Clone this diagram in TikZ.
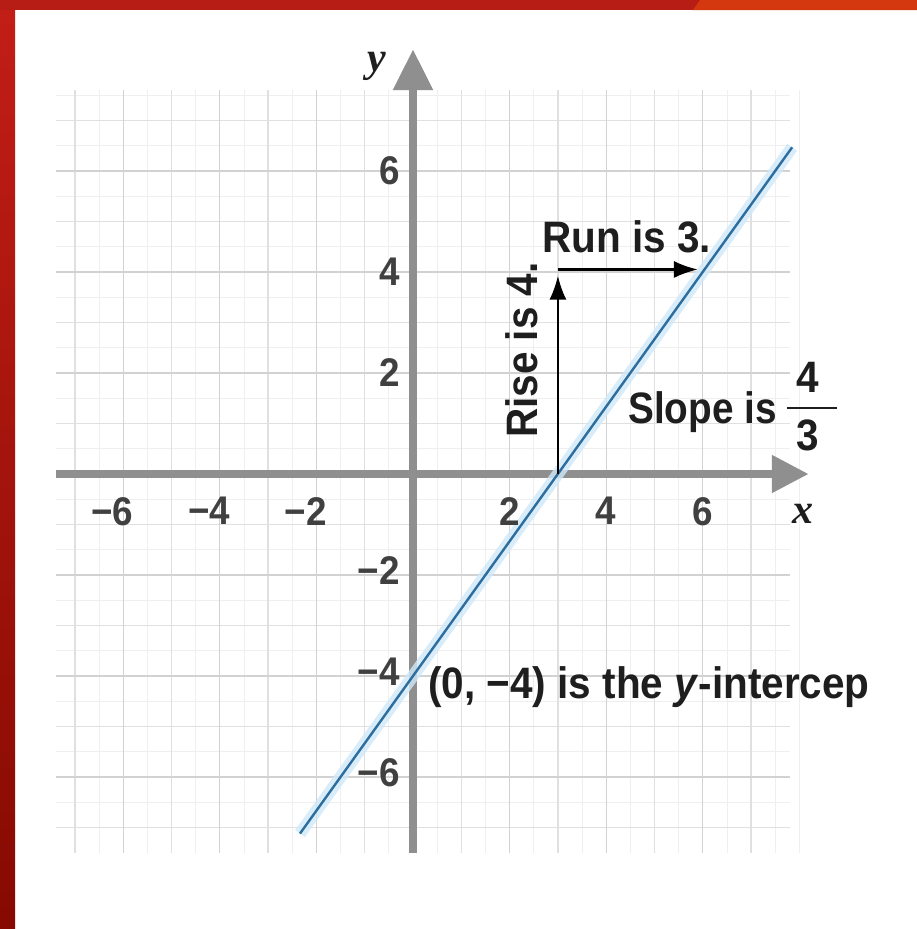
\documentclass[tikz,border=0pt]{standalone}
\usepackage{fontspec}
\setmainfont{Liberation Sans}
\newfontfamily\cond{Liberation Sans}[FakeStretch=0.92]
\newfontfamily\condn{Liberation Sans}[FakeStretch=0.88]
\newfontfamily\serifit{Liberation Serif}
\usetikzlibrary{arrows.meta}

\definecolor{axisgray}{HTML}{8F8F8F}
\definecolor{gridmaj}{HTML}{D2D2D2}
\definecolor{gridodd}{HTML}{E0E0E0}
\definecolor{gridmin}{HTML}{EFEFEF}
\definecolor{lineblue}{HTML}{2E6E9E}
\definecolor{haloblue}{HTML}{CFE9F8}
\definecolor{txt}{HTML}{1E1E1E}
\definecolor{redA}{HTML}{C21E16}
\definecolor{redB}{HTML}{860A02}
\definecolor{orangeR}{HTML}{D4380F}

\tikzset{
  lbl/.style={font=\cond\bfseries\fontsize{44}{44}\selectfont, text=txt, inner sep=0pt},
  lbln/.style={font=\condn\bfseries\fontsize{44}{44}\selectfont, text=txt, inner sep=0pt},
  ticklbl/.style={font=\cond\bfseries\fontsize{40}{40}\selectfont, text=txt!85!white, inner sep=0pt},
  axlbl/.style={font=\serifit\bfseries\itshape\fontsize{42}{42}\selectfont, text=txt, inner sep=0pt},
  arr/.style={line width=2.6pt, draw=black, -{Latex[length=24pt,width=17pt]}},
  majline/.style={draw=gridmaj, line width=1.3pt},
  oddline/.style={draw=gridodd, line width=1.3pt},
  minline/.style={draw=gridmin, line width=0.9pt},
}

\begin{document}
\begin{tikzpicture}[x=1pt,y=1pt]
\useasboundingbox (0,0) rectangle (917,-929);
\fill[white] (0,0) rectangle (917,-929);
% red frame
\shade[top color=redA,bottom color=redB] (0,0) rectangle (15,-929);
\fill[redA!95!black] (0,0) rectangle (917,-10);
\fill[orangeR] (700,0) -- (917,0) -- (917,-10) -- (693,-10) -- cycle;

\begin{scope}[shift={(413pt,-474pt)}, x=48.3pt, y=50.5pt]
  % grid
  \foreach \i in {-7,-6.5,...,7.5} \draw[minline] (\i+0.5,-7.5) -- (\i+0.5,7.6);
  \foreach \i in {-7.5,-7,...,7} \draw[minline] (-7.4,\i+0.5) -- (7.8,\i+0.5);
  \foreach \i in {-7,-5,...,7} \draw[oddline] (\i,-7.5) -- (\i,7.6);
  \foreach \i in {-7,-5,...,7} \draw[oddline] (-7.4,\i) -- (7.8,\i);
  \foreach \i in {-6,-4,...,6} \draw[majline] (\i,-7.5) -- (\i,7.6);
  \foreach \i in {-6,-4,...,6} \draw[majline] (-7.4,\i) -- (7.8,\i);
  % axes
  \draw[axisgray, line width=8pt] (-7.4,0) -- (7.5,0);
  \fill[axisgray] (8.18,0) -- (7.43,0.38) -- (7.43,-0.38) -- cycle;
  \draw[axisgray, line width=8pt] (0,-7.5) -- (0,7.7);
  \fill[axisgray] (0,8.4) -- (-0.42,7.6) -- (0.42,7.6) -- cycle;
  % line y = 4/3 x - 4
  \coordinate (L1) at (-2.34,-7.12);
  \coordinate (L2) at (7.85,6.47);
  \draw[haloblue, line width=12pt, opacity=0.8] (L1) -- (L2);
  \draw[lineblue, line width=2.4pt] (L1) -- (L2);
  % rise and run
  \coordinate (P0) at (3,0);
  \coordinate (P1) at (3,3.93);
  \coordinate (P2) at (3,4.05);
  \coordinate (P3) at (5.9,4.05);
  \draw[arr] (P0) -- (P1);
  \draw[arr] (P2) -- (P3);
  % x tick labels
  \foreach \v in {-6,-4,-2} {
    \pgfmathtruncatemacro\a{abs(\v)}
    \node[ticklbl, anchor=north] (xt\a n) at (\v,-0.46) {\llap{−}\a};
  }
  \foreach \v in {2,4,6}
    \node[ticklbl, anchor=north] (xt\v) at (\v,-0.46) {\v};
  % y tick labels
  \foreach \v in {2,4,6}
    \node[ticklbl, anchor=east] (yt\v) at (-0.27,\v) {\v};
  \foreach \v in {-6,-4,-2} {
    \pgfmathtruncatemacro\a{abs(\v)}
    \node[ticklbl, anchor=east] (yt\a n) at (-0.27,\v+0.08) {−\a};
  }
\end{scope}

% axis names
\node[axlbl] (ylab) at (377,-66) {y};
\node[axlbl] (xlab) at (803,-514) {x};

% annotations
\node[lbl, anchor=base west] (run) at (542,-252) {Run is 3.};
\node[lbl, rotate=90, anchor=base] (rise) at (537,-350) {Rise is 4.};
\node[lbln, anchor=base west] (slope) at (628,-423) {Slope is};
\node[lbl] (num) at (808,-377) {4};
\node[lbl] (den) at (808,-435) {3};
\coordinate (barL) at (787,-408);
\coordinate (barR) at (837,-408);
\draw[txt, line width=2.6pt] (barL) -- (barR);
\node[lbl, anchor=base west] (yint) at (428,-698) {(0, −4) is the \textit{y}-intercep};
\end{tikzpicture}
\end{document}
